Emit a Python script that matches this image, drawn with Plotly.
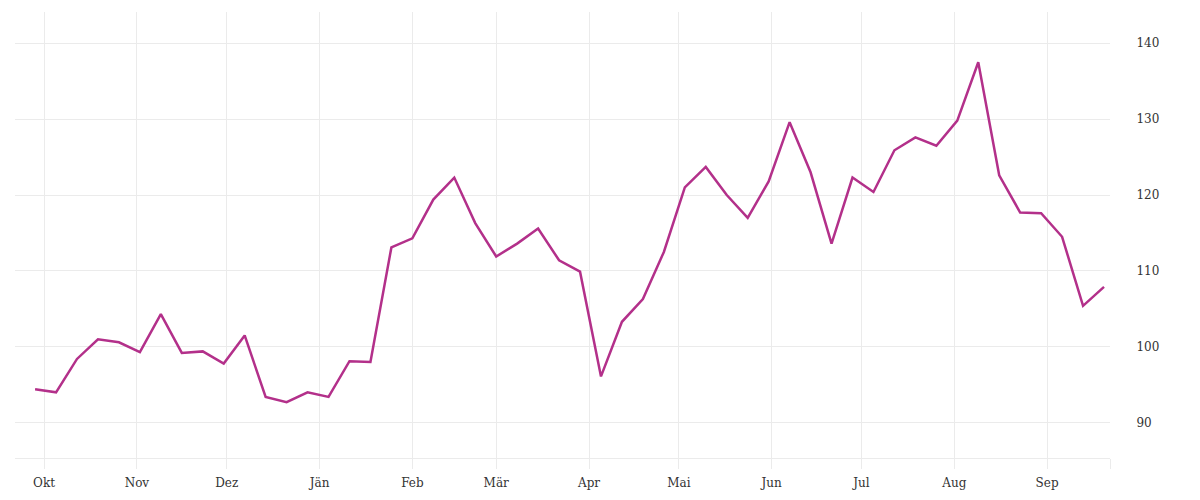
import pandas as pd
import plotly.graph_objects as go

# --- data ---
start_date = "2022-09-28"
values = [94.4, 94.0, 98.4, 101.0, 100.6, 99.3, 104.3, 99.2, 99.4, 97.8,
          101.5, 93.4, 92.7, 94.0, 93.4, 98.1, 98.0, 113.1, 114.3, 119.4,
          122.3, 116.3, 111.9, 113.6, 115.6, 111.4, 109.9, 96.1, 103.3, 106.3,
          112.5, 121.0, 123.7, 120.0, 117.0, 121.8, 129.6, 123.0, 113.6, 122.3,
          120.4, 125.9, 127.6, 126.5, 129.8, 137.5, 122.6, 117.7, 117.6, 114.5,
          105.4, 107.9]
dates = pd.date_range(start_date, periods=len(values), freq="7D")

month_ticks = ["2022-10-01", "2022-11-01", "2022-12-01", "2023-01-01", "2023-02-01",
               "2023-03-01", "2023-04-01", "2023-05-01", "2023-06-01", "2023-07-01",
               "2023-08-01", "2023-09-01", "2023-09-22"]
month_labels = ["Okt", "Nov", "Dez", "Jän", "Feb", "Mär", "Apr", "Mai", "Jun", "Jul",
                "Aug", "Sep", ""]
y_ticks = [90, 100, 110, 120, 130, 140]

x_range = ["2022-09-21 07:00", "2023-09-22"]
y_range = [85.35, 144.12]

GRID = "#ebebeb"
LINE = "#b3308a"
FONT = "DejaVu Serif"
TXT = "#333333"

fig = go.Figure()
fig.add_trace(go.Scatter(x=dates, y=values, mode="lines",
                         line=dict(color=LINE, width=2.5),
                         hoverinfo="x+y", showlegend=False))

fig.update_layout(
    width=1192, height=492,
    margin=dict(l=7, r=90, t=4, b=42),
    paper_bgcolor="white", plot_bgcolor="white",
    font=dict(family=FONT, size=12, color=TXT),
    xaxis=dict(
        range=x_range, tickmode="array", tickvals=month_ticks, ticktext=month_labels,
        showgrid=True, gridcolor=GRID, gridwidth=1,
        showline=True, linecolor=GRID, linewidth=1,
        ticks="outside", ticklen=10, tickcolor=GRID, tickwidth=1,
        ticklabelstandoff=4,
        tickfont=dict(family=FONT, size=12, color=TXT),
        zeroline=False, fixedrange=True,
    ),
    yaxis=dict(
        range=y_range, side="right", tickmode="array", tickvals=y_ticks,
        showgrid=True, gridcolor=GRID, gridwidth=1,
        showline=False, zeroline=False,
        ticks="outside", ticklen=23, tickcolor="rgba(0,0,0,0)",
        tickfont=dict(family=FONT, size=12, color=TXT),
        fixedrange=True,
    ),
)

fig.write_html("out.html")
